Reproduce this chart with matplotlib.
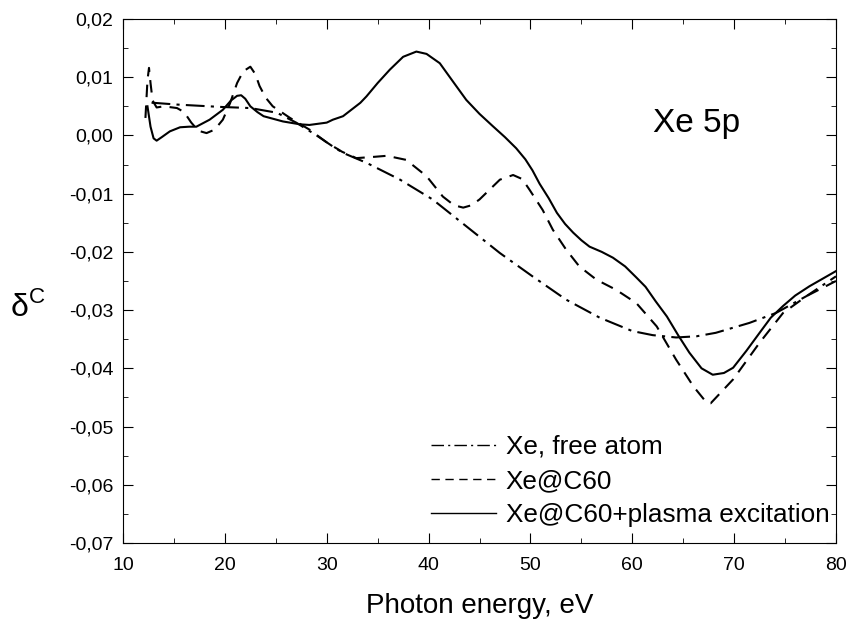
import matplotlib
matplotlib.use("Agg")
import matplotlib.pyplot as plt
from matplotlib.ticker import MultipleLocator, FuncFormatter

plt.rcParams['font.family'] = ['Liberation Sans', 'DejaVu Sans']

# Xe 5p, free atom
free_x = [12.8, 13.0, 15.3, 19.5, 22.5, 25.1, 27.0, 29.0, 30.6, 31.6, 33.9, 37.2,
          40.4, 43.7, 47.0, 50.2, 53.5, 56.8, 60.0, 62.0, 64.3, 66.3, 68.2, 71.5,
          74.1, 77.1, 80.0]
free_y = [0.0056, 0.0056, 0.0053, 0.0049, 0.0047, 0.0039, 0.0022, 0.0, -0.0019,
          -0.003, -0.0047, -0.0076, -0.011, -0.0156, -0.0202, -0.0242, -0.0282,
          -0.0313, -0.0336, -0.0343, -0.0347, -0.0345, -0.0339, -0.0322, -0.0305,
          -0.0276, -0.0242]

# Xe@C60
c60_x = [12.2, 12.4, 12.55, 12.7, 12.9, 13.3, 14.0, 15.3, 16.0, 16.7, 17.4, 18.2,
         19.0, 19.8, 20.5, 21.2, 21.8, 22.5, 23.0, 23.4, 24.0, 24.7, 26.4, 28.3,
         30.0, 31.5, 32.9, 34.5, 35.9, 37.8, 39.8, 41.4, 42.5, 43.4, 44.2, 45.0,
         47.0, 48.3, 49.2, 49.9, 51.2, 52.2, 53.5, 54.8, 56.5, 58.4, 60.4, 62.4,
         64.3, 66.0, 67.3, 67.7, 69.9, 72.5, 74.8, 77.1, 80.0]
c60_y = [0.003, 0.0095, 0.0116, 0.009, 0.006, 0.0048, 0.005, 0.0047, 0.004, 0.0022,
         0.0008, 0.0004, 0.001, 0.0027, 0.0055, 0.009, 0.011, 0.0118, 0.0105, 0.0085,
         0.0065, 0.005, 0.003, 0.001, -0.0012, -0.0028, -0.0039, -0.0037, -0.0035,
         -0.0042, -0.007, -0.0105, -0.012, -0.0124, -0.012, -0.011, -0.0076, -0.0068,
         -0.0075, -0.0093, -0.0128, -0.0162, -0.0196, -0.0225, -0.0248, -0.0265,
         -0.0288, -0.0328, -0.0385, -0.0431, -0.0459, -0.046, -0.0419, -0.0356,
         -0.0305, -0.0276, -0.025]

# Xe@C60 + plasma excitation
pl_x = [12.4, 12.7, 13.0, 13.3, 13.8, 14.6, 15.6, 16.5, 17.2, 18.5, 19.8, 20.6,
        21.2, 21.6, 22.0, 22.5, 23.2, 23.8, 25.7, 27.4, 28.3, 30.0, 30.6, 31.6,
        33.3, 33.9, 35.0, 36.2, 37.5, 38.8, 39.8, 41.1, 42.5, 43.7, 45.0, 46.3,
        47.5, 48.6, 49.5, 50.2, 50.9, 51.8, 52.6, 53.4, 54.2, 55.0, 55.8, 57.0,
        58.1, 59.3, 60.4, 61.3, 62.3, 63.4, 64.5, 65.6, 66.8, 67.9, 69.0, 69.9,
        71.2, 72.5, 73.6, 74.8, 76.0, 77.4, 78.7, 80.0]
pl_y = [0.005, 0.0015, -0.0005, -0.0009, -0.0003, 0.0007, 0.0014, 0.0015, 0.0015,
        0.0027, 0.0044, 0.006, 0.0068, 0.0069, 0.0063, 0.005, 0.004, 0.0033, 0.0024,
        0.0019, 0.0018, 0.0022, 0.0027, 0.0033, 0.0056, 0.0067, 0.009, 0.0113,
        0.0135, 0.0144, 0.014, 0.0124, 0.009, 0.0061, 0.0037, 0.0016, -0.0003,
        -0.0022, -0.0041, -0.006, -0.0083, -0.0108, -0.0133, -0.0152, -0.0167,
        -0.018, -0.0191, -0.02, -0.021, -0.0225, -0.0244, -0.026, -0.0285, -0.0311,
        -0.0343, -0.0373, -0.04, -0.0411, -0.0408, -0.0399, -0.037, -0.0339,
        -0.0313, -0.0293, -0.0275, -0.0259, -0.0246, -0.0233]

fig = plt.figure(figsize=(8.52, 6.24), dpi=100)
ax = fig.add_axes([0.1444, 0.1298, 0.8368, 0.8398])

ax.plot(free_x, free_y, color='black', lw=1.5, dashes=(9, 3, 1.5, 3),
        label='Xe, free atom')
ax.plot(c60_x, c60_y, color='black', lw=1.5, dashes=(6, 4),
        label='Xe@C60')
ax.plot(pl_x, pl_y, color='black', lw=1.5,
        label='Xe@C60+plasma excitation')

ax.set_xlim(10, 80)
ax.set_ylim(-0.07, 0.02)
ax.xaxis.set_major_locator(MultipleLocator(10))
ax.xaxis.set_minor_locator(MultipleLocator(5))
ax.yaxis.set_major_locator(MultipleLocator(0.01))
ax.yaxis.set_minor_locator(MultipleLocator(0.005))
ax.yaxis.set_major_formatter(FuncFormatter(lambda v, p: ('%.2f' % v).replace('.', ',')))
ax.tick_params(which='both', direction='in', top=True, right=True, labelsize=14, pad=7)
ax.tick_params(axis='x', pad=10)
ax.tick_params(which='major', length=7)
ax.tick_params(which='minor', length=3.5)

ax.set_xlabel('Photon energy, eV', fontsize=20, labelpad=14)
ax.set_ylabel('δ$^{\\mathregular{C}}$', fontsize=23, rotation=0, ha='center', va='center')
ax.yaxis.set_label_coords(-0.134, 0.45)
ax.text(62, 0.0020, 'Xe 5p', fontsize=24, va='center')

leg = ax.legend(loc='lower right', bbox_to_anchor=(0.991, 0.03), frameon=False,
                fontsize=18.8, handlelength=2.5, handletextpad=0.38, labelspacing=0.39,
                borderpad=0, borderaxespad=0)
for h in leg.get_lines():
    h.set_linewidth(1.0)

fig.savefig('out.png', dpi=100)
